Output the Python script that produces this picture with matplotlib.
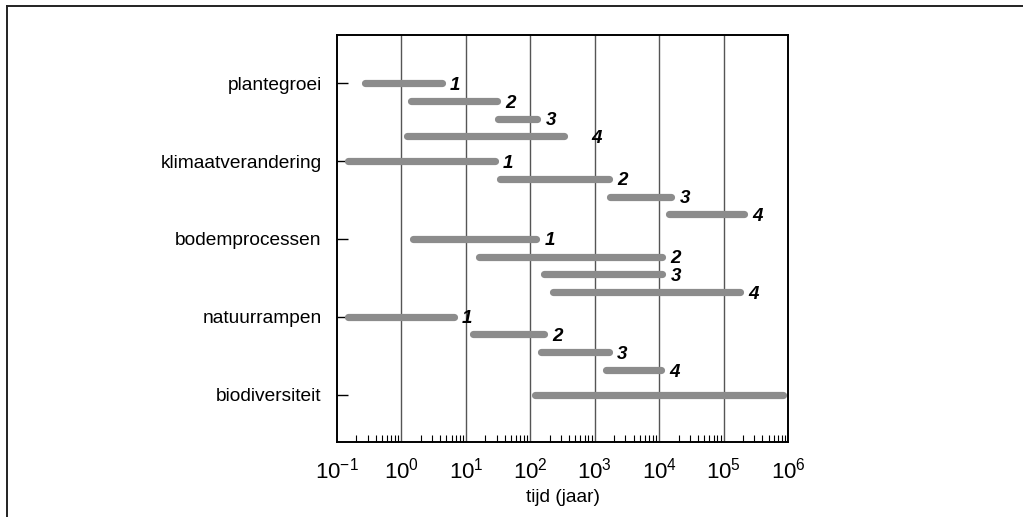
import numpy as np
import matplotlib.pyplot as plt
from matplotlib.lines import Line2D
from matplotlib.ticker import LogLocator, NullFormatter

plt.rcParams['font.family'] = ['Liberation Sans', 'DejaVu Sans']

# --- gegevens (tijdschalen in jaren) ---
categorieen = ['plantegroei', 'klimaatverandering', 'bodemprocessen',
               'natuurrampen', 'biodiversiteit']

plant_start = [0.27, 1.4, 32, 1.2]
plant_eind  = [4.2, 30, 128, 330]
klimaat_start = [0.15, 34, 1700, 14400]
klimaat_eind  = [28, 1650, 15500, 2.1e5]
bodem_start = [1.5, 15.8, 165, 227]
bodem_eind  = [124, 11200, 11200, 1.8e5]
natuur_start = [0.15, 12.8, 146, 1490]
natuur_eind  = [6.5, 162, 1650, 10600]
bio_start = [118]
bio_eind  = [8.3e5]

labels = ['1', '2', '3', '4']
decaden = [-1, 0, 1, 2, 3, 4, 5, 6]

starts = [plant_start, klimaat_start, bodem_start, natuur_start, bio_start]
eindes = [plant_eind, klimaat_eind, bodem_eind, natuur_eind, bio_eind]

fig = plt.figure(figsize=(10.23, 5.17), dpi=100)
ax = fig.add_axes([337 / 1023, 1 - 442 / 517, (788 - 337) / 1023, (442 - 35) / 517])

BALK = '#8c8c8c'
STAP = 0.228
extra = {(0, 3): 14}   # label '4' bij plantegroei staat verder weg

for i, (s, e) in enumerate(zip(starts, eindes)):
    for j in range(len(s)):
        y = i + j * STAP
        ax.plot([s[j], e[j]], [y, y], color=BALK, lw=5.2,
                solid_capstyle='round', zorder=3)
        if len(s) > 1:
            ax.annotate(labels[j], xy=(e[j], y),
                        xytext=(6 + extra.get((i, j), 0), -1.5),
                        textcoords='offset points', ha='left', va='center',
                        fontsize=13.5, fontweight='bold', fontstyle='italic',
                        zorder=4)

ax.set_xscale('log')
ax.set_xlim(10.0 ** decaden[0], 10.0 ** decaden[-1])
ax.set_ylim(len(categorieen) - 1 + 0.61, -0.62)

ax.set_xticks([10.0 ** d for d in decaden])
ax.set_xticklabels([r'$\mathdefault{10^{%d}}$' % d for d in decaden])
ax.xaxis.set_minor_locator(LogLocator(base=10, subs=np.arange(2, 10)))
ax.xaxis.set_minor_formatter(NullFormatter())
ax.tick_params(axis='x', which='major', direction='in', length=0,
               labelsize=16, pad=11)
ax.tick_params(axis='x', which='minor', direction='in', length=5,
               width=0.8, top=False)

ax.set_yticks(range(len(categorieen)))
ax.set_yticklabels(categorieen)
ax.tick_params(axis='y', direction='in', length=8, width=1,
               labelsize=13.8, pad=11)

for d in decaden[1:-1]:
    ax.axvline(10.0 ** d, color='#555555', lw=1, zorder=1)

for sp in ax.spines.values():
    sp.set_linewidth(1.4)
    sp.set_color('black')

ax.set_xlabel('tijd (jaar)', fontsize=13.8, labelpad=4)

# kader rond de figuur (links en boven)
fig.add_artist(Line2D([7 / 1023, 7 / 1023], [0, 1 - 6 / 517],
                      transform=fig.transFigure, color='#222222', lw=1.4))
fig.add_artist(Line2D([7 / 1023, 1], [1 - 6 / 517, 1 - 6 / 517],
                      transform=fig.transFigure, color='#222222', lw=1.4))

fig.savefig('out.png', dpi=100)
